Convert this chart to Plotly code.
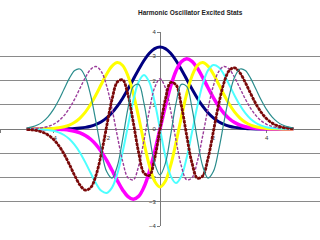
import plotly.graph_objects as go

# x positions (dimensionless coordinate)
x = [-5.0, -4.8, -4.6, -4.4, -4.2, -4.0, -3.8, -3.6, -3.4, -3.2, -3.0, -2.8, -2.6, -2.4, -2.2,
     -2.0, -1.8, -1.6, -1.4, -1.2, -1.0, -0.8, -0.6, -0.4, -0.2, 0.0, 0.2, 0.4, 0.6, 0.8, 1.0,
     1.2, 1.4, 1.6, 1.8, 2.0, 2.2, 2.4, 2.6, 2.8, 3.0, 3.2, 3.4, 3.6, 3.8, 4.0, 4.2, 4.4, 4.6,
     4.8, 5.0]

psi0 = [0.000, 0.000, 0.000, 0.000, 0.000, 0.001, 0.002, 0.005, 0.010, 0.020, 0.038, 0.067, 0.115,
        0.190, 0.301, 0.457, 0.669, 0.940, 1.269, 1.645, 2.050, 2.454, 2.823, 3.120, 3.313,
        3.380,
        3.313, 3.120, 2.823, 2.454, 2.050, 1.645, 1.269, 0.940, 0.669, 0.457, 0.301, 0.190, 0.115,
        0.067, 0.038, 0.020, 0.010, 0.005, 0.002, 0.001, 0.000, 0.000, 0.000, 0.000, 0.000]

psi1 = [0.000, 0.000, -0.001, -0.001, -0.003, -0.006, -0.013, -0.026, -0.050, -0.091, -0.159,
        -0.266, -0.423, -0.644, -0.935, -1.294, -1.703, -2.126, -2.512, -2.792, -2.899, -2.777,
        -2.396, -1.765, -0.937,
        0.0,
        0.937, 1.765, 2.396, 2.777, 2.899, 2.792, 2.512, 2.126, 1.703, 1.294, 0.935, 0.644, 0.423,
        0.266, 0.159, 0.091, 0.050, 0.026, 0.013, 0.006, 0.003, 0.001, 0.001, 0.000, 0.000]

psi2 = [0.000, 0.001, 0.003, 0.006, 0.012, 0.025, 0.049, 0.091, 0.163, 0.278, 0.451, 0.696, 1.019,
        1.411, 1.845, 2.264, 2.592, 2.738, 2.619, 2.187, 1.450, 0.486, -0.559, -1.500, -2.155,
        -2.390,
        -2.155, -1.500, -0.559, 0.486, 1.450, 2.187, 2.619, 2.738, 2.592, 2.264, 1.845, 1.411,
        1.019, 0.696, 0.451, 0.278, 0.163, 0.091, 0.049, 0.025, 0.012, 0.006, 0.003, 0.001, 0.000]

psi3 = [-0.002, -0.004, -0.009, -0.019, -0.039, -0.076, -0.140, -0.247, -0.412, -0.652, -0.976,
        -1.375, -1.817, -2.240, -2.550, -2.641, -2.419, -1.840, -0.943, 0.137, 1.184, 1.950,
        2.230, 1.931, 1.117,
        0.0,
        -1.117, -1.931, -2.230, -1.950, -1.184, -0.137, 0.943, 1.840, 2.419, 2.641, 2.550, 2.240,
        1.817, 1.375, 0.976, 0.652, 0.412, 0.247, 0.140, 0.076, 0.039, 0.019, 0.009, 0.004, 0.002]

psi4 = [0.006, 0.013, 0.027, 0.055, 0.106, 0.193, 0.335, 0.550, 0.850, 1.235, 1.680, 2.119, 2.459,
        2.579, 2.370, 1.774, 0.834, -0.289, -1.335, -2.010, -2.092, -1.524, -0.462, 0.753, 1.709,
        2.070,
        1.709, 0.753, -0.462, -1.524, -2.092, -2.010, -1.335, -0.289, 0.834, 1.774, 2.370, 2.579,
        2.459, 2.119, 1.680, 1.235, 0.850, 0.550, 0.335, 0.193, 0.106, 0.055, 0.027, 0.013, 0.006]

psi5 = [-0.016, -0.035, -0.071, -0.135, -0.246, -0.421, -0.680, -1.030, -1.459, -1.916, -2.312,
        -2.523, -2.418, -1.911, -1.016, 0.118, 1.214, 1.938, 2.025, 1.403, 0.265, -0.973, -1.819,
        -1.918, -1.215,
        0.0,
        1.215, 1.918, 1.819, 0.973, -0.265, -1.403, -2.025, -1.938, -1.214, -0.118, 1.016, 1.911,
        2.418, 2.523, 2.312, 1.916, 1.459, 1.030, 0.680, 0.421, 0.246, 0.135, 0.071, 0.035, 0.016]

psi6 = [0.042, 0.085, 0.163, 0.294, 0.499, 0.796, 1.186, 1.640, 2.088, 2.413, 2.473, 2.144, 1.385,
        0.294, -0.873, -1.756, -2.023, -1.527, -0.419, 0.863, 1.757, 1.841, 1.052, -0.245, -1.419,
        -1.890,
        -1.419, -0.245, 1.052, 1.841, 1.757, 0.863, -0.419, -1.527, -2.023, -1.756, -0.873, 0.294,
        1.385, 2.144, 2.473, 2.413, 2.088, 1.640, 1.186, 0.796, 0.499, 0.294, 0.163, 0.085, 0.042]

x_ticks = [-6, -4, -2, 0, 2, 4, 6]
y_ticks = [-4, -3, -2, -1, 0, 1, 2, 3, 4]
title = "Harmonic Oscillator Excited Stats"

fig = go.Figure()

def add(y, color, width, dash="solid", name=""):
    fig.add_trace(go.Scatter(x=x, y=y, mode="lines", name=name,
                             line=dict(color=color, width=width, dash=dash, shape="spline"),
                             hoverinfo="skip"))

add(psi0, "#000080", 3.0, name="n=0")
add(psi1, "#FF00FF", 3.5, name="n=1")
add(psi2, "#FFFF00", 3.0, name="n=2")
add(psi3, "#4DFFFF", 2.0, name="n=3")
add(psi4, "#9a3c9a", 1.4, dash="3px,1.5px", name="n=4")
add(psi5, "#7a0a0a", 1.3, name="n=5")
add(psi5, "#7a0a0a", 2.8, dash="3px,1px", name="n=5 markers")
add(psi6, "#2a8c8c", 1.2, name="n=6")

axis_font = dict(family="Liberation Sans, Arial, sans-serif", size=6, color="#333333")

fig.update_layout(
    width=320, height=240,
    margin=dict(l=0, r=0, t=32, b=14),
    paper_bgcolor="white", plot_bgcolor="white",
    showlegend=False,
    xaxis=dict(range=[-6, 6], tickvals=x_ticks, showgrid=False, zeroline=False,
               anchor="free", position=0.5, showline=True, linecolor="#7a7a7a", linewidth=1,
               ticks="outside", ticklen=3, tickcolor="#7a7a7a", tickfont=axis_font,
               layer="below traces"),
    yaxis=dict(range=[-4, 4], tickvals=y_ticks, showgrid=True, gridcolor="#8a8a8a", gridwidth=1,
               zeroline=False, anchor="free", position=0.5, showline=True,
               linecolor="#7a7a7a", linewidth=1, ticks="outside", ticklen=3,
               tickcolor="#7a7a7a", tickfont=axis_font, layer="below traces"),
    annotations=[dict(text="<b>" + title + "</b>", xref="paper", yref="paper",
                      x=0.594, y=1.098, xanchor="center", yanchor="middle", showarrow=False,
                      font=dict(family="Liberation Sans, Arial, sans-serif", size=6.5,
                                color="#222222"))],
)

fig.write_html("out.html")
